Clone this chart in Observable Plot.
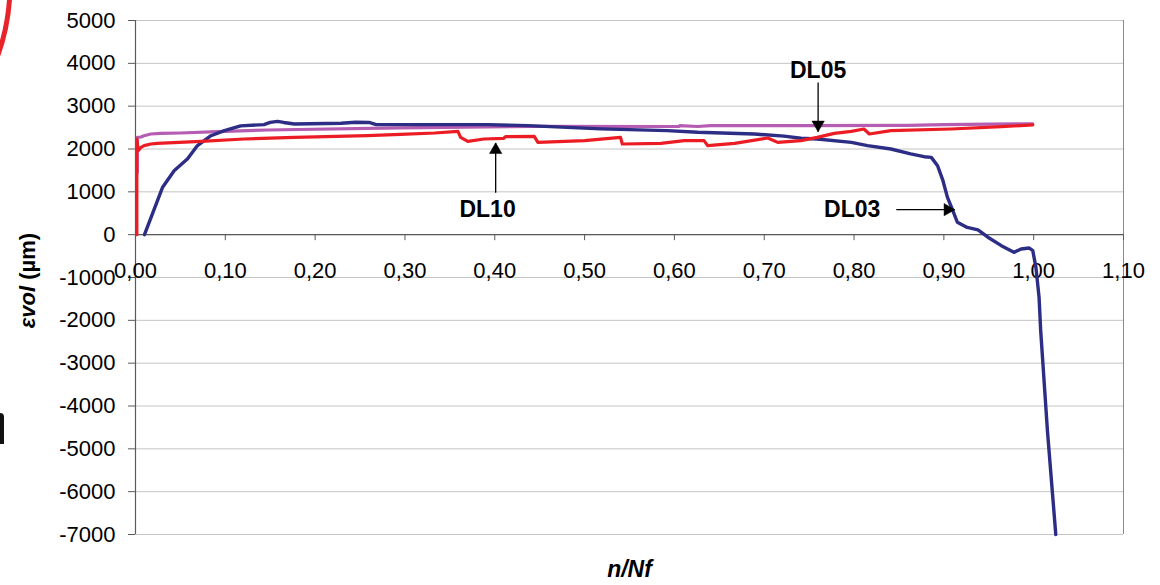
<!DOCTYPE html>
<html>
<head>
<meta charset="utf-8">
<script src="https://cdn.jsdelivr.net/npm/d3@7"></script>
<script src="https://cdn.jsdelivr.net/npm/@observablehq/plot@0.6"></script>
<style>
  html, body { margin: 0; padding: 0; background: #fff; }
  #wrap { position: relative; width: 1160px; height: 585px; overflow: hidden; background: #fff; }
  #deco { position: absolute; left: 0; top: 0; pointer-events: none; }
  #stub { position: absolute; left: 0; top: 413px; width: 4px; height: 31px; background: #111; border-top-right-radius: 5px; }
</style>
</head>
<body>
<div id="wrap">
  <div id="chart"></div>
  <svg id="deco" width="24" height="70"><circle cx="-200" cy="-15" r="210" fill="none" stroke="#e8232a" stroke-width="5"></circle></svg>
  <div id="stub"></div>
</div>
<script>
// ---- Data ----
const xTicks = [0, 0.1, 0.2, 0.3, 0.4, 0.5, 0.6, 0.7, 0.8, 0.9, 1.0, 1.1];
const yTicks = [-7000, -6000, -5000, -4000, -3000, -2000, -1000, 0, 1000, 2000, 3000, 4000, 5000];

const seriesNames = ["DL03", "DL05", "DL10"];
const seriesColors = ["#2c2d84", "#b55db2", "#ec1c24"];

const dl03X = [0.010, 0.020, 0.030, 0.043, 0.058, 0.069, 0.084, 0.099, 0.117, 0.143, 0.150, 0.158, 0.165, 0.177, 0.229, 0.245, 0.260, 0.268, 0.392, 0.437, 0.518, 0.592, 0.626, 0.689, 0.722, 0.741, 0.759, 0.797, 0.815, 0.841, 0.863, 0.878, 0.886, 0.893, 0.899, 0.904, 0.910, 0.915, 0.926, 0.938, 0.949, 0.964, 0.978, 0.986, 0.995, 0.999, 1.0025, 1.006, 1.0078, 1.0153, 1.0246];
const dl03Y = [0, 550, 1100, 1490, 1770, 2080, 2310, 2430, 2540, 2570, 2620, 2645, 2620, 2585, 2600, 2625, 2620, 2570, 2568, 2545, 2470, 2430, 2390, 2350, 2300, 2250, 2234, 2155, 2080, 2000, 1885, 1820, 1805, 1610, 1260, 870, 560, 290, 170, 110, -60, -257, -413, -335, -311, -374, -763, -1464, -2241, -4576, -7000];

const dl05X = [0.002, 0.002, 0.006, 0.0096, 0.017, 0.028, 0.050, 0.091, 0.147, 0.295, 0.444, 0.605, 0.606, 0.626, 0.640, 0.741, 0.860, 0.900, 0.950, 0.999];
const dl05Y = [1450, 2270, 2280, 2310, 2350, 2366, 2374, 2405, 2444, 2491, 2530, 2525, 2545, 2525, 2545, 2545, 2550, 2570, 2580, 2590];

const dl10X = [0.0015, 0.0015, 0.003, 0.006, 0.0096, 0.017, 0.024, 0.073, 0.121, 0.177, 0.258, 0.295, 0.333, 0.359, 0.362, 0.370, 0.388, 0.410, 0.412, 0.444, 0.448, 0.500, 0.540, 0.542, 0.585, 0.611, 0.633, 0.637, 0.667, 0.704, 0.715, 0.741, 0.759, 0.778, 0.797, 0.811, 0.817, 0.841, 0.908, 0.964, 0.999];
const dl10Y = [0, 2234, 1961, 2038, 2078, 2117, 2132, 2179, 2234, 2272, 2311, 2340, 2374, 2412, 2272, 2179, 2234, 2250, 2288, 2295, 2155, 2195, 2272, 2117, 2132, 2195, 2195, 2078, 2132, 2257, 2155, 2195, 2272, 2366, 2412, 2467, 2350, 2428, 2467, 2522, 2561];

// Annotations
const annLabels = ["DL05", "DL10", "DL03"];
const annX = [0.760, 0.392, 0.798];
const annY = [3829, 595, 595];
const arrX1 = [0.760, 0.401, 0.847];
const arrY1 = [3550, 981, 584];
const arrX2 = [0.760, 0.401, 0.912];
const arrY2 = [2405, 2140, 584];
const arrRotate = [180, 0, 90];

const xLabel = "n/Nf";

// ---- Build tables ----
function toRows(name, X, Y) { return X.map((x, i) => ({series: name, x, y: Y[i]})); }
const rows03 = toRows("DL03", dl03X, dl03Y);
const rows05 = toRows("DL05", dl05X, dl05Y);
const rows10 = toRows("DL10", dl10X, dl10Y);
const arrows = annLabels.map((s, i) => ({x1: arrX1[i], y1: arrY1[i], x2: arrX2[i], y2: arrY2[i], rot: arrRotate[i]}));

const W = 1160, H = 585, mT = 20, mB = 51, mL = 135, mR = 37;
const yDomain = [-7000, 5000];
const innerH = H - mT - mB;
const zeroFromBottom = innerH * (0 - yDomain[0]) / (yDomain[1] - yDomain[0]);
const headOff = 7;

const fmtX = d => d.toFixed(2).replace(".", ",");

const chart = Plot.plot({
  width: W, height: H,
  marginTop: mT, marginBottom: mB, marginLeft: mL, marginRight: mR,
  style: {fontFamily: "'Liberation Sans', Arial, sans-serif", fontSize: "22px", background: "white", color: "black", overflow: "visible"},
  x: {domain: [0, 1.1], axis: null},
  y: {domain: yDomain, axis: null},
  color: {domain: seriesNames, range: seriesColors},
  marks: [
    Plot.ruleY(yTicks, {stroke: "#c4c4c4", strokeWidth: 1}),
    Plot.ruleX([1.1], {stroke: "#8a8a8a", strokeWidth: 1}),
    Plot.ruleX([0], {stroke: "#5a5a5a", strokeWidth: 1.2}),
    Plot.ruleY([0], {stroke: "#5a5a5a", strokeWidth: 1.2}),
    Plot.axisY(yTicks, {anchor: "left", tickSize: 7, tickPadding: 13, tickFormat: d => String(d), fontSize: 22, stroke: "#5a5a5a", fill: "black", label: null}),
    Plot.axisX(xTicks, {anchor: "bottom", dy: -zeroFromBottom, tickSize: 6, tickPadding: 22, tickFormat: fmtX, fontSize: 22, stroke: "#5a5a5a", fill: "black", label: null}),
    Plot.line(rows05, {x: "x", y: "y", stroke: "series", strokeWidth: 3.2}),
    Plot.line(rows03, {x: "x", y: "y", stroke: "series", strokeWidth: 3.4}),
    Plot.line(rows10, {x: "x", y: "y", stroke: "series", strokeWidth: 3.2}),
    Plot.link(arrows, {x1: "x1", y1: "y1", x2: "x2", y2: "y2", stroke: "black", strokeWidth: 1.3}),
    Plot.dot(arrows.filter(d => d.rot === 180), {x: "x2", y: "y2", symbol: "triangle", r: 4.6, rotate: 180, fill: "black", stroke: "black", strokeWidth: 0.5, dy: -headOff}),
    Plot.dot(arrows.filter(d => d.rot === 0), {x: "x2", y: "y2", symbol: "triangle", r: 4.6, rotate: 0, fill: "black", stroke: "black", strokeWidth: 0.5, dy: headOff}),
    Plot.dot(arrows.filter(d => d.rot === 90), {x: "x2", y: "y2", symbol: "triangle", r: 4.6, rotate: 90, fill: "black", stroke: "black", strokeWidth: 0.5, dx: -headOff}),
    Plot.text(annLabels, {x: (d, i) => annX[i], y: (d, i) => annY[i], text: d => d, fontWeight: "bold", fontSize: 23, fill: "black"}),
    Plot.text([xLabel], {frameAnchor: "bottom", dy: 42, text: d => d, fontWeight: "bold", fontStyle: "italic", fontSize: 23, fill: "black"}),
    Plot.text(["εvol (µm)"], {frameAnchor: "left", textAnchor: "middle", dx: -108, dy: 3, rotate: -90, text: d => d, fontWeight: "bold", fontSize: 22, fill: "black", className: "ylab"})
  ]
});
document.getElementById("chart").appendChild(chart);

// Style the y label: italic "εvol" followed by "(µm)"
const yl = d3.select(chart).select(".ylab text");
if (!yl.empty()) {
  yl.text(null);
  yl.append("tspan").attr("font-style", "italic").text("εvol");
  yl.append("tspan").text(" (µm)");
}
</script>
</body>
</html>
